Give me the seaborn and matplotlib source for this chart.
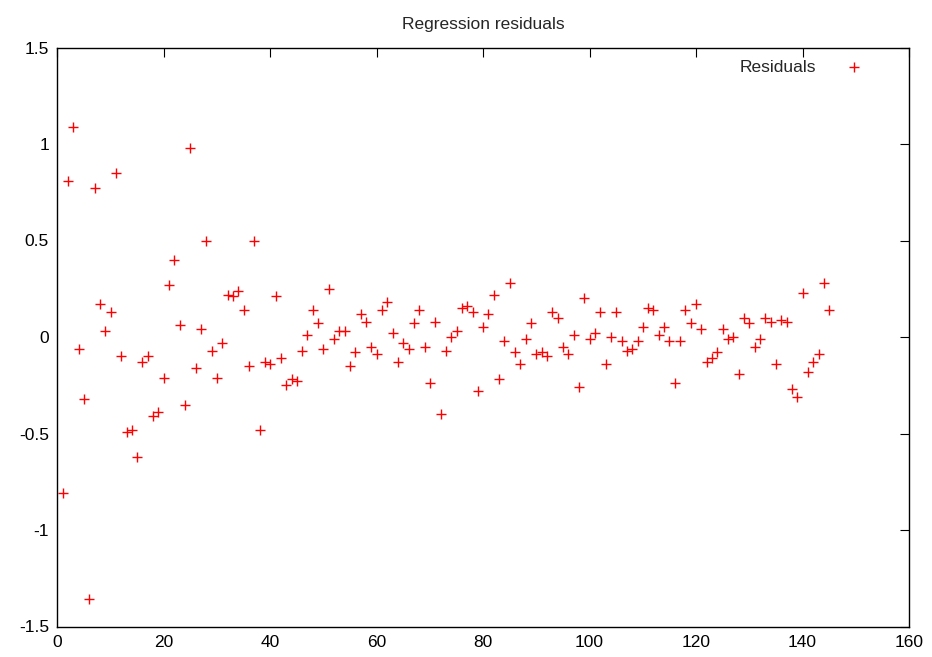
import matplotlib
matplotlib.use("Agg")
import matplotlib.pyplot as plt
import seaborn as sns
import numpy as np
import pandas as pd
from matplotlib.ticker import FuncFormatter, MultipleLocator

# ---- data ----
residuals = [
    -0.81, 0.81, 1.09, -0.06, -0.32, -1.36, 0.77, 0.17, 0.03, 0.13,
    0.85, -0.10, -0.49, -0.48, -0.62, -0.13, -0.10, -0.41, -0.39, -0.21,
    0.27, 0.40, 0.06, -0.35, 0.98, -0.16, 0.04, 0.50, -0.07, -0.21,
    -0.03, 0.22, 0.21, 0.24, 0.14, -0.15, 0.50, -0.48, -0.13, -0.14,
    0.21, -0.11, -0.25, -0.22, -0.23, -0.07, 0.01, 0.14, 0.07, -0.06,
    0.25, -0.01, 0.03, 0.03, -0.15, -0.08, 0.12, 0.08, -0.05, -0.09,
    0.14, 0.18, 0.02, -0.13, -0.03, -0.06, 0.07, 0.14, -0.05, -0.24,
    0.08, -0.40, -0.07, 0.00, 0.03, 0.15, 0.16, 0.13, -0.28, 0.05,
    0.12, 0.22, -0.22, -0.02, 0.28, -0.08, -0.14, -0.01, 0.07, -0.09,
    -0.08, -0.10, 0.13, 0.10, -0.05, -0.09, 0.01, -0.26, 0.20, -0.01,
    0.02, 0.13, -0.14, 0.00, 0.13, -0.02, -0.07, -0.06, -0.02, 0.05,
    0.15, 0.14, 0.01, 0.05, -0.02, -0.24, -0.02, 0.14, 0.07, 0.17,
    0.04, -0.13, -0.11, -0.08, 0.04, -0.01, 0.00, -0.19, 0.10, 0.07,
    -0.05, -0.01, 0.10, 0.08, -0.14, 0.09, 0.08, -0.27, -0.31, 0.23,
    -0.18, -0.13, -0.09, 0.28, 0.14,
]
index = list(range(1, len(residuals) + 1))
x_ticks = [0, 20, 40, 60, 80, 100, 120, 140, 160]
y_ticks = [-1.5, -1, -0.5, 0, 0.5, 1, 1.5]
title = "Regression residuals"
series_label = "Residuals"

df = pd.DataFrame({"index": index, "residual": residuals})

sns.set_style("white")
plt.rcParams["font.family"] = ["Liberation Sans", "DejaVu Sans"]
plt.rcParams["axes.unicode_minus"] = False

fig = plt.figure(figsize=(9.32, 6.57), dpi=100)
ax = fig.add_axes([57.3 / 932, 1 - 626.5 / 657, (909 - 57.3) / 932, (626.5 - 47.5) / 657])

sns.scatterplot(data=df, x="index", y="residual", ax=ax, marker="+",
                color="#ff0000", s=48, linewidth=1.0, label=series_label)

ax.set_xlim(0, 160)
ax.set_ylim(-1.5, 1.5)
ax.set_xticks(x_ticks)
ax.set_yticks(y_ticks)
ax.yaxis.set_major_formatter(FuncFormatter(lambda v, p: "%g" % v))
ax.set_xlabel("")
ax.set_ylabel("")

for sp in ax.spines.values():
    sp.set_visible(True)
    sp.set_color("black")
    sp.set_linewidth(1.0)

ax.tick_params(direction="in", length=6.5, width=0.8, color="black",
               top=True, right=True, labelsize=12.5, labelcolor="black", pad=6)

ax.set_title(title, fontsize=12.5, pad=13)

leg = ax.legend(loc="upper right", frameon=False, markerfirst=False,
                fontsize=12.5, handletextpad=1.2, borderaxespad=0.3,
                bbox_to_anchor=(0.97, 1.0))

fig.savefig("out.png", dpi=100, facecolor="white")
